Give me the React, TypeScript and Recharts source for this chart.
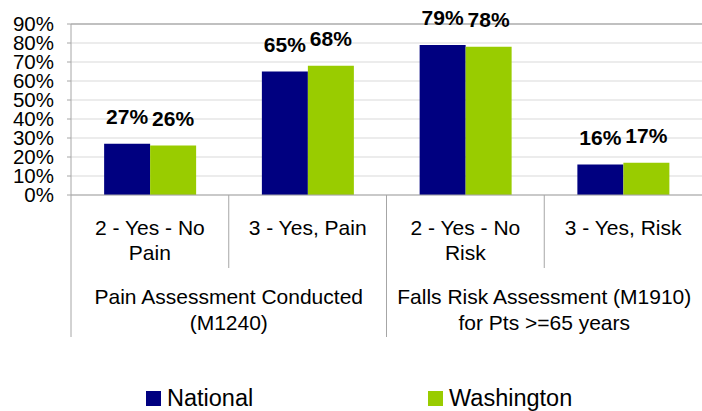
import { BarChart, Bar, XAxis, YAxis, CartesianGrid, Legend, LabelList, ReferenceLine } from 'recharts';

const categories = ['2 - Yes - No\nPain', '3 - Yes, Pain', '2 - Yes - No\nRisk', '3 - Yes, Risk'];
const groups = [
  'Pain Assessment Conducted\n(M1240)',
  'Pain Assessment Conducted\n(M1240)',
  'Falls Risk Assessment (M1910)\nfor Pts >=65 years',
  'Falls Risk Assessment (M1910)\nfor Pts >=65 years',
];
const national = [27, 65, 79, 16];
const washington = [26, 68, 78, 17];
const yTicks = [0, 10, 20, 30, 40, 50, 60, 70, 80, 90];

const FONT = '"Liberation Sans", Arial, sans-serif';
const NAVY = '#000080';
const GREEN = '#99cc00';
const LINE = '#a6a6a6';

const data = categories.map((c, i) => ({
  category: c,
  group: groups[i],
  National: national[i],
  Washington: washington[i],
}));

// half a band, falls back to width / count when the tick has no offset
function halfBand(props: any) {
  const off = props.payload?.offset;
  if (typeof off === 'number' && off > 0) return off;
  return props.width / props.visibleTicksCount / 2;
}

function CategoryTick(props: any) {
  const { x, y, payload } = props;
  const half = halfBand(props);
  const lines = String(payload.value).split('\n');
  return (
    <g>
      <line x1={x - half} y1={y} x2={x - half} y2={y + 73} stroke={LINE} />
      <text x={x} textAnchor="middle" fontSize={21} fontFamily={FONT} fill="#000">
        {lines.map((l, i) => (
          <tspan key={i} x={x} y={y + 39.5 + i * 25}>
            {l}
          </tspan>
        ))}
      </text>
    </g>
  );
}

function GroupTick(props: any) {
  const { x, y, payload } = props;
  const half = halfBand(props);
  const lines = String(payload.value).split('\n');
  return (
    <g>
      <line x1={x - half} y1={y} x2={x - half} y2={y + 69} stroke={LINE} />
      <text x={x} textAnchor="middle" fontSize={21} fontFamily={FONT} fill="#000">
        {lines.map((l, i) => (
          <tspan key={i} x={x} y={y + 35.5 + i * 26}>
            {l}
          </tspan>
        ))}
      </text>
    </g>
  );
}

function LegendBox({ payload }: any) {
  return (
    <div style={{ height: 70, position: 'relative', fontFamily: FONT }}>
      <div style={{ position: 'absolute', top: 50, left: 146, display: 'flex' }}>
        {(payload || []).map((p: any) => (
          <div key={p.value} style={{ display: 'flex', alignItems: 'center', width: 282, height: 22 }}>
            <span style={{ width: 15, height: 15, background: p.color, display: 'inline-block' }} />
            <span style={{ fontSize: 23.5, marginLeft: 6, lineHeight: '22px', color: '#000' }}>{p.value}</span>
          </div>
        ))}
      </div>
    </div>
  );
}

export default function App() {
  return (
    <div style={{ position: 'absolute', left: 0, top: 0, background: '#fff' }}>
      <BarChart
        width={702}
        height={411}
        data={data}
        margin={{ top: 24, right: 0, left: 0, bottom: 4 }}
        barCategoryGap="21%"
        barGap={0}
      >
        <CartesianGrid vertical={false} stroke="#d9d9d9" />
        <XAxis
          dataKey="category"
          height={73}
          tickSize={0}
          tickMargin={0}
          tickLine={false}
          axisLine={{ stroke: LINE }}
          tick={<CategoryTick />}
          interval={0}
        />
        <XAxis
          xAxisId="group"
          dataKey="group"
          allowDuplicatedCategory={false}
          height={69}
          tickSize={0}
          tickMargin={0}
          tickLine={false}
          axisLine={false}
          tick={<GroupTick />}
          interval={0}
        />
        <YAxis
          width={71}
          domain={[0, 90]}
          ticks={yTicks}
          interval={0}
          tickSize={4}
          tickMargin={13}
          axisLine={{ stroke: LINE }}
          tickLine={{ stroke: LINE }}
          tick={{ fontSize: 20.5, fontFamily: FONT, fill: '#000' }}
          tickFormatter={(v) => `${v}%`}
        />
        <ReferenceLine y={90} stroke="#c0c0c0" strokeWidth={2} />
        <Legend verticalAlign="bottom" content={<LegendBox />} />
        <Bar dataKey="National" fill={NAVY} isAnimationActive={false}>
          <LabelList
            dataKey="National"
            position="top"
            offset={20}
            formatter={(v: any) => `${v}%`}
            style={{ fontSize: 21, fontWeight: 'bold', fontFamily: FONT, fill: '#000' }}
          />
        </Bar>
        <Bar dataKey="Washington" fill={GREEN} isAnimationActive={false}>
          <LabelList
            dataKey="Washington"
            position="top"
            offset={20}
            formatter={(v: any) => `${v}%`}
            style={{ fontSize: 21, fontWeight: 'bold', fontFamily: FONT, fill: '#000' }}
          />
        </Bar>
      </BarChart>
    </div>
  );
}
